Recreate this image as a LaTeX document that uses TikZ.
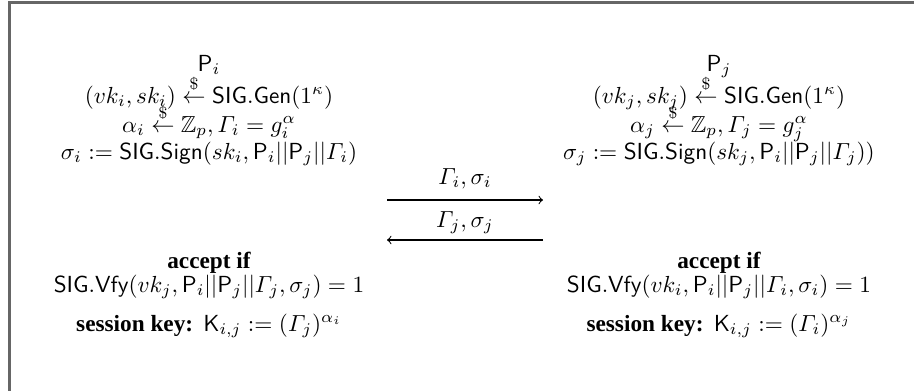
\documentclass[tikz,border=0pt]{standalone}
\usepackage{amsmath,amssymb}
\usepackage{fontspec}
\newfontfamily\tnr{Liberation Serif}
\newcommand{\kw}[1]{{\tnr\bfseries #1}}
\newcommand{\sig}{\mathsf{SIG}}
\begin{document}
\begin{tikzpicture}[x=0.43pt,y=-0.43pt,
  txt/.style={inner sep=0pt,anchor=base},
  msg/.style={->,line width=0.45pt},
  frame/.style={draw=black!60,line width=0.9pt}]
\useasboundingbox (0,0) rectangle (914,391);
\draw[frame] (9.5,391) -- (9.5,2.5) -- (914,2.5);
% left party
\node[txt] (pi) at (209,71) {$\mathsf{P}_i$};
\node[txt] (l2) at (209,103) {$(vk_i,sk_i)\stackrel{\$}{\leftarrow}\sig.\mathsf{Gen}(1^\kappa)$};
\node[txt] (l3) at (209,132) {$\alpha_i\stackrel{\$}{\leftarrow}\mathbb{Z}_p,\varGamma_i=g_i^\alpha$};
\node[txt] (l4) at (209,159) {$\sigma_i:=\sig.\mathsf{Sign}(sk_i,\mathsf{P}_i||\mathsf{P}_j||\varGamma_i)$};
\node[txt] (l5) at (209,268) {\kw{accept if}};
\node[txt] (l6) at (209,292) {$\sig.\mathsf{Vfy}(vk_j,\mathsf{P}_i||\mathsf{P}_j||\varGamma_j,\sigma_j)=1$};
\node[txt] (l7) at (209,331) {\kw{session key:} $\mathsf{K}_{i,j}:=(\varGamma_j)^{\alpha_i}$};
% right party
\node[txt] (pj) at (719,71) {$\mathsf{P}_j$};
\node[txt] (r2) at (719,103) {$(vk_j,sk_j)\stackrel{\$}{\leftarrow}\sig.\mathsf{Gen}(1^\kappa)$};
\node[txt] (r3) at (719,132) {$\alpha_j\stackrel{\$}{\leftarrow}\mathbb{Z}_p,\varGamma_j=g_j^\alpha$};
\node[txt] (r4) at (719,159) {$\sigma_j:=\sig.\mathsf{Sign}(sk_j,\mathsf{P}_i||\mathsf{P}_j||\varGamma_j))$};
\node[txt] (r5) at (719,268) {\kw{accept if}};
\node[txt] (r6) at (719,292) {$\sig.\mathsf{Vfy}(vk_i,\mathsf{P}_i||\mathsf{P}_j||\varGamma_i,\sigma_i)=1$};
\node[txt] (r7) at (719,331) {\kw{session key:} $\mathsf{K}_{i,j}:=(\varGamma_i)^{\alpha_j}$};
% messages
\coordinate (m1s) at (387,200);
\coordinate (m1e) at (543,200);
\coordinate (m2s) at (543,240);
\coordinate (m2e) at (387,240);
\node[txt] (m1l) at (465,184) {$\varGamma_i,\sigma_i$};
\node[txt] (m2l) at (465,227) {$\varGamma_j,\sigma_j$};
\draw[msg] (m1s) -- (m1e);
\draw[msg] (m2s) -- (m2e);
\end{tikzpicture}
\end{document}
